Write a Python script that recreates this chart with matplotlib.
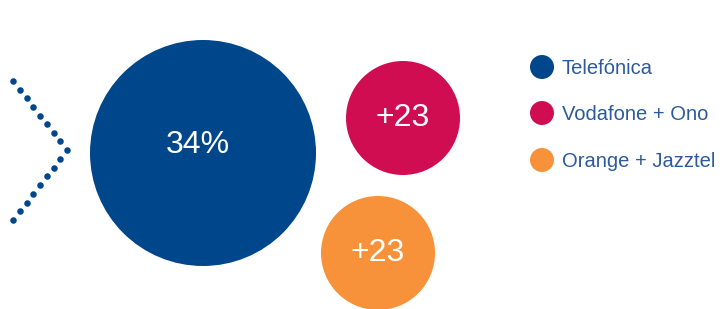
import matplotlib
matplotlib.use("Agg")
import matplotlib.pyplot as plt
from matplotlib.patches import Circle

# Data
operators = ["Telefónica", "Vodafone + Ono", "Orange + Jazztel"]
labels = ["34%", "+23", "+23"]
colors = ["#00468B", "#D10D52", "#F7923A"]

# Layout (pixel coordinates)
centers = [(203, 153), (403, 118), (378, 253)]
radii = [113, 57, 57]
label_offsets = [(-5, -8), (0, 0), (0, 0)]
legend_y = [67, 113, 160]

fig = plt.figure(figsize=(7.2, 3.09), dpi=100)
ax = fig.add_axes([0, 0, 1, 1])
ax.set_xlim(0, 720)
ax.set_ylim(309, 0)
ax.set_aspect("equal")
ax.axis("off")

for (cx, cy), r, c, lab, (dx, dy) in zip(centers, radii, colors, labels, label_offsets):
    ax.add_patch(Circle((cx, cy), r, color=c, lw=0))
    ax.text(cx + dx, cy + dy, lab, color="white", fontsize=23,
            ha="center", va="center", family="Liberation Sans")

# Dotted chevron
n_up = 9
tip = (67, 150)
top = (13, 81)
bot = (13, 220)
xs, ys = [], []
for i in range(n_up):
    t = i / (n_up - 1)
    xs.append(top[0] + (tip[0] - top[0]) * t)
    ys.append(top[1] + (tip[1] - top[1]) * t)
for i in range(1, n_up):
    t = i / (n_up - 1)
    xs.append(tip[0] + (bot[0] - tip[0]) * t)
    ys.append(tip[1] + (bot[1] - tip[1]) * t)
ax.scatter(xs, ys, s=22, color="#00468B", lw=0)

# Legend
for name, c, y in zip(operators, colors, legend_y):
    ax.add_patch(Circle((542, y), 12, color=c, lw=0))
    ax.text(562, y + 1.5, name, color="#2D5A9C", fontsize=14.5, ha="left",
            va="center", family="Liberation Sans")

fig.savefig("out.png", dpi=100)
